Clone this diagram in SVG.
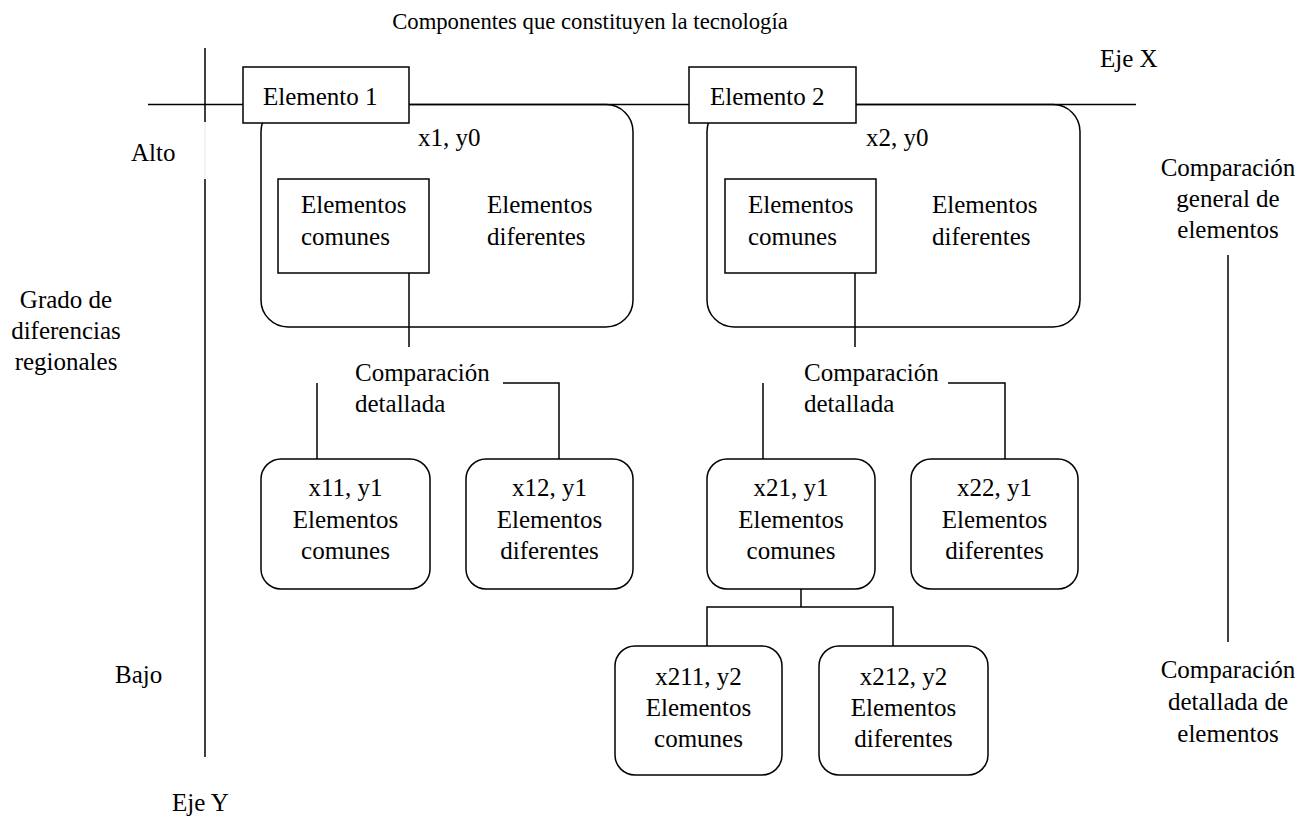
<svg xmlns="http://www.w3.org/2000/svg" width="1315" height="819" viewBox="0 0 1315 819">
<style>
  text { font-family: "Liberation Serif", "Times New Roman", serif; font-size: 25px; fill: #000; }
  .c { text-anchor: middle; }
  .title { font-size: 22.7px; text-anchor: middle; }
  .ln { stroke: #000; stroke-width: 1.5; fill: none; }
  .box { stroke: #000; stroke-width: 1.5; fill: #fff; }
  .rbox { stroke: #000; stroke-width: 1.5; fill: none; }
</style>
<rect width="1315" height="819" fill="#fff"/>

<g id="labels">
  <text class="title" x="590" y="29">Componentes que constituyen la tecnología</text>
  <text x="1100" y="67">Eje X</text>
  <text x="131" y="161">Alto</text>
  <text class="c" x="66" y="308">Grado de</text>
  <text class="c" x="66" y="339">diferencias</text>
  <text class="c" x="66" y="370">regionales</text>
  <text x="115" y="683">Bajo</text>
  <text x="172" y="811">Eje Y</text>
  <text class="c" x="1228" y="176">Comparación</text>
  <text class="c" x="1228" y="207">general de</text>
  <text class="c" x="1228" y="238">elementos</text>
  <text class="c" x="1228" y="678">Comparación</text>
  <text class="c" x="1228" y="710">detallada de</text>
  <text class="c" x="1228" y="742">elementos</text>
</g>

<g id="axes">
  <line class="ln" x1="148" y1="104.5" x2="1136" y2="104.5"/>
  <line class="ln" x1="205" y1="48" x2="205" y2="122"/>
  <line x1="205" y1="122" x2="205" y2="179" stroke="#e4e4e4" stroke-width="1"/>
  <line class="ln" x1="205" y1="179" x2="205" y2="757"/>
  <line class="ln" x1="1228" y1="255" x2="1228" y2="642"/>
</g>

<g id="group1">
  <rect class="rbox" x="261" y="104.5" width="372" height="222.5" rx="27"/>
  <text x="418" y="146">x1, y0</text>
  <text x="487" y="213">Elementos</text>
  <text x="487" y="245">diferentes</text>
</g>
<g id="elemento1">
  <rect class="box" x="243" y="67" width="166" height="56"/>
  <text x="263" y="105">Elemento 1</text>
</g>
<g id="comunes1">
  <rect class="box" x="278" y="179" width="151" height="94"/>
  <text x="301" y="213">Elementos</text>
  <text x="301" y="245">comunes</text>
</g>

<g id="group2">
  <rect class="rbox" x="707" y="104.5" width="373" height="222.5" rx="27"/>
  <text x="866" y="146">x2, y0</text>
  <text x="932" y="213">Elementos</text>
  <text x="932" y="245">diferentes</text>
</g>
<g id="elemento2">
  <rect class="box" x="689" y="67" width="167" height="56"/>
  <text x="710" y="105">Elemento 2</text>
</g>
<g id="comunes2">
  <rect class="box" x="725" y="179" width="151" height="94"/>
  <text x="748" y="213">Elementos</text>
  <text x="748" y="245">comunes</text>
</g>

<g id="connectors">
  <line class="ln" x1="409" y1="273" x2="409" y2="347"/>
  <line class="ln" x1="855" y1="273" x2="855" y2="347"/>
  <line class="ln" x1="317" y1="383" x2="317" y2="459"/>
  <polyline class="ln" points="503,383 559,383 559,459"/>
  <line class="ln" x1="763" y1="383" x2="763" y2="459"/>
  <polyline class="ln" points="948,383 1005,383 1005,459"/>
  <line class="ln" x1="801" y1="589" x2="801" y2="607"/>
  <polyline class="ln" points="707,646 707,607 893,607 893,646"/>
</g>

<g id="comparacion1">
  <text x="355" y="381">Comparación</text>
  <text x="355" y="412">detallada</text>
</g>
<g id="comparacion2">
  <text x="804" y="381">Comparación</text>
  <text x="804" y="412">detallada</text>
</g>

<g id="x11">
  <rect class="rbox" x="261" y="459" width="169" height="130" rx="20"/>
  <text class="c" x="345.5" y="496">x11, y1</text>
  <text class="c" x="345.5" y="528">Elementos</text>
  <text class="c" x="345.5" y="559">comunes</text>
</g>
<g id="x12">
  <rect class="rbox" x="466" y="459" width="167" height="130" rx="20"/>
  <text class="c" x="549.5" y="496">x12, y1</text>
  <text class="c" x="549.5" y="528">Elementos</text>
  <text class="c" x="549.5" y="559">diferentes</text>
</g>
<g id="x21">
  <rect class="rbox" x="707" y="459" width="168" height="130" rx="20"/>
  <text class="c" x="791" y="496">x21, y1</text>
  <text class="c" x="791" y="528">Elementos</text>
  <text class="c" x="791" y="559">comunes</text>
</g>
<g id="x22">
  <rect class="rbox" x="911" y="459" width="167" height="130" rx="20"/>
  <text class="c" x="994.5" y="496">x22, y1</text>
  <text class="c" x="994.5" y="528">Elementos</text>
  <text class="c" x="994.5" y="559">diferentes</text>
</g>
<g id="x211">
  <rect class="rbox" x="615" y="646" width="167" height="129" rx="20"/>
  <text class="c" x="698.5" y="685">x211, y2</text>
  <text class="c" x="698.5" y="716">Elementos</text>
  <text class="c" x="698.5" y="747">comunes</text>
</g>
<g id="x212">
  <rect class="rbox" x="819" y="646" width="169" height="129" rx="20"/>
  <text class="c" x="903.5" y="685">x212, y2</text>
  <text class="c" x="903.5" y="716">Elementos</text>
  <text class="c" x="903.5" y="747">diferentes</text>
</g>
</svg>
